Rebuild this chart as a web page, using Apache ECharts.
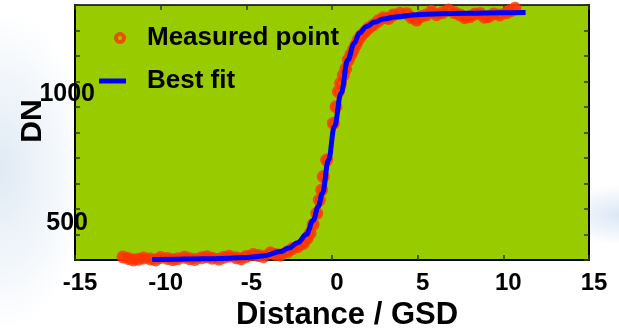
<!DOCTYPE html>
<html>
<head>
<meta charset="utf-8">
<script src="https://cdn.jsdelivr.net/npm/echarts@6/dist/echarts.min.js"></script>
<style>
html,body{margin:0;padding:0;}
body{width:619px;height:329px;overflow:hidden;
background:
 radial-gradient(ellipse 90px 160px at 0px 170px, rgba(210,225,240,0.7), rgba(255,255,255,0) 100%),
 radial-gradient(ellipse 60px 30px at 619px 215px, rgba(215,228,245,0.9), rgba(255,255,255,0) 100%),
 #ffffff;}
#chart{width:619px;height:329px;}
</style>
</head>
<body>
<div id="chart"></div>
<script>
// Measured points (Distance / GSD, DN)
var measuredX = [-12.2,-11.9,-11.6,-11.3,-11.0,-10.6,-10.3,-10.0,-9.6,-9.3,-9.0,-8.6,-8.3,-8.0,-7.6,-7.3,-7.0,-6.6,-6.3,-6.0,-5.6,-5.3,-5.0,-4.6,-4.3,-4.0,-3.6,-3.3,-3.0,-2.6,-2.3,-2.0,-1.67,-1.45,-1.28,-1.1,-0.89,-0.74,-0.6,-0.51,-0.31,0.08,0.23,0.37,0.5,0.66,0.8,0.95,1.1,1.24,1.4,1.53,1.7,1.93,2.15,2.41,2.7,3.0,3.3,3.58,3.95,4.36,4.65,4.94,5.2,5.5,5.8,6.1,6.45,6.8,7.15,7.47,7.75,8.05,8.35,8.64,8.9,9.12,9.45,9.8,10.2,10.45,10.68];
var measuredY = [312,306,300,303,308,304,300,310,306,301,305,311,305,302,309,313,307,303,311,315,309,305,314,322,318,313,328,322,320,332,345,352,365,385,405,440,483,535,575,627,692,836,901,960,993,1025,1050,1084,1105,1124,1145,1163,1180,1195,1210,1222,1238,1250,1247,1261,1268,1267,1250,1241,1255,1261,1275,1262,1270,1280,1270,1261,1250,1254,1265,1267,1252,1254,1265,1261,1270,1278,1287];
// Best fit curve
var fitX = [-10.5,-9,-8,-7,-6,-5,-4,-3,-2.5,-2,-1.5,-1.1,-0.8,-0.56,-0.2,0.14,0.53,0.92,1.3,1.6,2,2.5,3,3.7,5,6,8,10,11.3];
var fitY = [302,303,304,305,307,310,316,333,347,368,400,455,510,562,692,823,954,1084,1150,1190,1215,1233,1245,1253,1262,1265,1268,1270,1271];
var xTicks = {min:-15, max:15, interval:5};
var yTicks = {min:300, max:1300, interval:100};
var yLabelShown = [500, 1000];

var measured = measuredX.map(function(x,i){return [x, measuredY[i]];});
var fit = fitX.map(function(x,i){return [x, fitY[i]];});

var RED = '#ff3300', BLUE = '#0000ff', GREEN = '#99cc00';
var FONT = '"Liberation Sans", Arial, sans-serif';
var tickStyle = {show:true, inside:true, length:5, lineStyle:{color:'#2a3a00', width:1.5}};

var chart = echarts.init(document.getElementById('chart'), null, {renderer:'canvas'});
chart.setOption({
  animation:false,
  backgroundColor:'transparent',
  grid:{left:75, right:30, top:5, bottom:69, show:true, backgroundColor:GREEN, borderWidth:0,
        containLabel:false, outerBoundsMode:'none'},
  legend:[
    {data:[{name:'Measured point', icon:'circle'}], left:114, top:25, padding:0, orient:'vertical',
     itemWidth:8, itemHeight:8,
     itemStyle:{color:GREEN, borderColor:RED, borderWidth:4},
     textStyle:{fontFamily:FONT, fontWeight:'bold', fontSize:26, color:'#000', padding:[10,0,0,18]}},
    {data:[{name:'Best fit', icon:'rect'}], left:99, top:68, padding:0, orient:'vertical',
     itemWidth:27, itemHeight:5,
     itemStyle:{color:BLUE, borderWidth:0},
     textStyle:{fontFamily:FONT, fontWeight:'bold', fontSize:26, color:'#000', padding:[4,0,0,16]}}
  ],
  xAxis:[
    {type:'value', position:'bottom', min:xTicks.min, max:xTicks.max, interval:xTicks.interval,
     name:'Distance / GSD', nameLocation:'middle', nameGap:40, nameMoveOverlap:false,
     nameTextStyle:{fontFamily:FONT, fontWeight:'bold', fontSize:31, color:'#000', padding:[0,0,0,30]},
     axisLine:{show:true, lineStyle:{color:'#000', width:2}},
     axisTick:tickStyle, splitLine:{show:false},
     axisLabel:{fontFamily:FONT, fontWeight:'bold', fontSize:24, color:'#000', margin:11, padding:[0,0,0,10]}},
    {type:'value', position:'top', min:xTicks.min, max:xTicks.max, interval:xTicks.interval,
     axisLine:{show:true, onZero:false, lineStyle:{color:'#000', width:1.5}},
     axisTick:tickStyle, axisLabel:{show:false}, splitLine:{show:false}}
  ],
  yAxis:[
    {type:'value', position:'left', min:yTicks.min, max:yTicks.max, interval:yTicks.interval,
     name:'DN', nameLocation:'middle', nameGap:27, nameRotate:90, nameMoveOverlap:false,
     nameTextStyle:{fontFamily:FONT, fontWeight:'bold', fontSize:30, color:'#000', padding:[0,0,0,23]},
     axisLine:{show:true, onZero:false, lineStyle:{color:'#000', width:2}},
     axisTick:tickStyle, splitLine:{show:false},
     axisLabel:{margin:-20, verticalAlign:'top', align:'right',
       formatter:function(v){
         if (v === yLabelShown[1]) return '{a|' + v + '}';
         if (v === yLabelShown[0]) return '{b|' + v + '}';
         return '';
       },
       rich:{
         a:{fontFamily:FONT, fontWeight:'bold', fontSize:25, color:'#000', padding:[0,0,0,0]},
         b:{fontFamily:FONT, fontWeight:'bold', fontSize:25, color:'#000', padding:[2,7,0,0]}
       }}},
    {type:'value', position:'right', min:yTicks.min, max:yTicks.max, interval:yTicks.interval,
     axisLine:{show:true, onZero:false, lineStyle:{color:'#000', width:2}},
     axisTick:tickStyle, axisLabel:{show:false}, splitLine:{show:false}}
  ],
  series:[
    {name:'Measured point', type:'scatter', xAxisIndex:0, yAxisIndex:0, data:measured,
     symbol:'circle', symbolSize:9, clip:false,
     itemStyle:{color:RED, borderColor:RED, borderWidth:4}, z:3},
    {name:'Best fit', type:'line', xAxisIndex:0, yAxisIndex:0, data:fit,
     smooth:0.4, smoothMonotone:'x', showSymbol:false, symbol:'none', clip:false,
     lineStyle:{color:BLUE, width:5}, itemStyle:{color:BLUE}, z:4}
  ]
});
</script>
</body>
</html>
